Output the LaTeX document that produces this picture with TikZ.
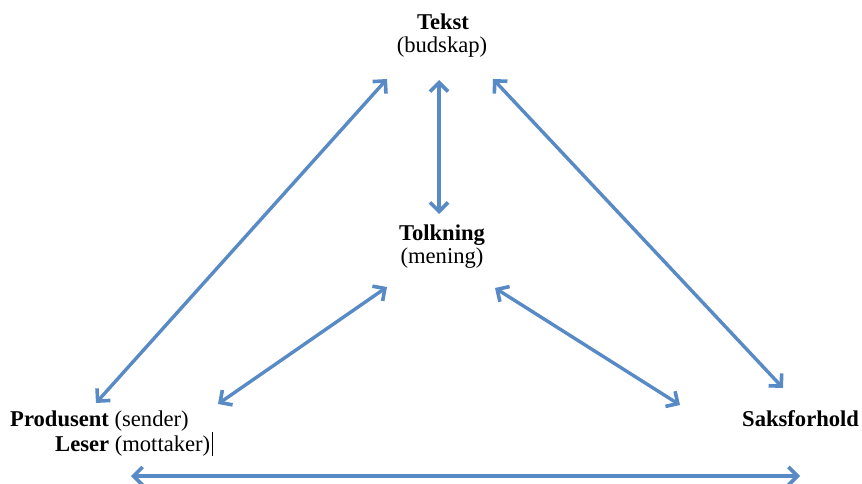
\documentclass[tikz,border=0pt]{standalone}
\usepackage{fontspec}
\setmainfont{Liberation Serif}
\usetikzlibrary{arrows.meta}
\definecolor{arrowblue}{RGB}{88,138,198}
\tikzset{
  label/.style={inner sep=0pt, font=\fontsize{22.6}{25}\selectfont},
  barb/.tip={Straight Barb[length=9pt,width=18pt,line width=3.6pt]},
  link/.style={arrowblue, line width=3.4pt, barb-barb}
}
\begin{document}
\begin{tikzpicture}[x=1pt,y=-1pt]
\useasboundingbox (0,0) rectangle (862,484);

% labels
\node[label, anchor=base] (tekst) at (443,30) {\textbf{Tekst}};
\node[label, anchor=base] (budskap) at (442,53) {(budskap)};
\node[label, anchor=base] (tolkning) at (442,240) {\textbf{Tolkning}};
\node[label, anchor=base] (mening) at (442,263) {(mening)};
\node[label, anchor=base west] (produsent) at (10,426) {\textbf{Produsent} (sender)};
\node[label, anchor=base west] (leser) at (55,451) {\textbf{Leser} (mottaker)};
\node[label, anchor=base west] (saks) at (742,426) {\textbf{Saksforhold}};

% text caret after the second line
\coordinate (caretTop) at (212.5,432);
\coordinate (caretBot) at (212.5,456);
\draw[black, line width=1.2pt] (caretTop) -- (caretBot);

% arrow end points
\coordinate (tL) at (387,79);
\coordinate (tM) at (439,80);
\coordinate (tR) at (493,79);
\coordinate (pL) at (96,403);
\coordinate (mT) at (439,214);
\coordinate (sR) at (783,388);
\coordinate (oL) at (387,287);
\coordinate (oR) at (495,288);
\coordinate (lL) at (218,404);
\coordinate (rR) at (680,405);
\coordinate (bL) at (131,476);
\coordinate (bR) at (800,476);

% connectors
\draw[link] (pL) -- (tL);
\draw[link] (mT) -- (tM);
\draw[link] (sR) -- (tR);
\draw[link] (lL) -- (oL);
\draw[link] (rR) -- (oR);
\draw[link] (bL) -- (bR);
\end{tikzpicture}
\end{document}
